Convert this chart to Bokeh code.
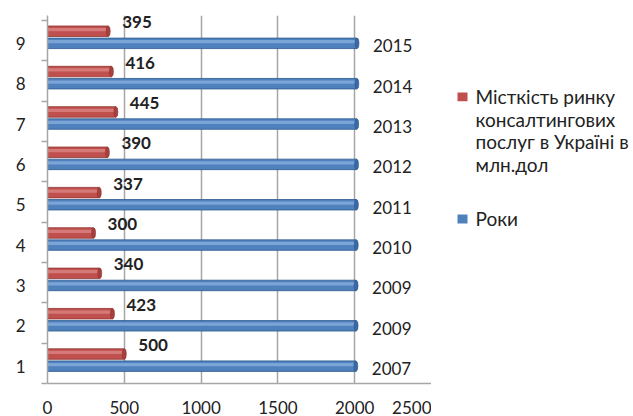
from bokeh.plotting import figure
from bokeh.models import Range1d, FixedTicker
from bokeh.layouts import row
from bokeh.core.properties import value
from bokeh.embed import file_html
from bokeh.resources import INLINE

# ---- data ----
categories = [1, 2, 3, 4, 5, 6, 7, 8, 9]
years = [2007, 2009, 2009, 2010, 2011, 2012, 2013, 2014, 2015]
market = [500, 423, 340, 300, 337, 390, 445, 416, 395]
year_labels = [str(v) for v in years]
market_labels = [str(v) for v in market]
x_ticks = [0, 500, 1000, 1500, 2000, 2500]
legend_market = ["Місткість ринку", "консалтингових", "послуг в Україні в", "млн.дол"]
legend_years = ["Роки"]

FONT = "Lato"
RED, RED_HI, RED_LO = "#C0504D", "#DE8C8A", "#8E3330"
BLUE, BLUE_HI, BLUE_LO = "#4F81BD", "#8EB4E3", "#2D5A8E"
GRID = "#A6A6A6"
TXT = "#222222"

p = figure(width=431, height=416, output_backend="svg", toolbar_location=None,
           x_range=Range1d(0, 2500), y_range=Range1d(0.57, 9.69),
           min_border_left=47, min_border_right=0, min_border_top=15, min_border_bottom=33)
p.outline_line_color = None

# axes
p.xaxis.ticker = FixedTicker(ticks=x_ticks)
p.xaxis.axis_line_color = GRID
p.xaxis.axis_line_width = 1.5
p.xaxis.major_tick_line_color = None
p.xaxis.minor_tick_line_color = None
p.xaxis.major_label_standoff = 11
p.xaxis.major_label_text_font = FONT
p.xaxis.major_label_text_font_size = "17px"
p.xaxis.major_label_text_color = TXT

p.yaxis.ticker = FixedTicker(ticks=categories, minor_ticks=[c + 0.57 for c in [0] + categories])
p.yaxis.axis_line_color = GRID
p.yaxis.axis_line_width = 1.5
p.yaxis.major_tick_line_color = None
p.yaxis.minor_tick_line_color = GRID
p.yaxis.minor_tick_line_width = 1.5
p.yaxis.minor_tick_out = 6
p.yaxis.minor_tick_in = 0
p.yaxis.major_label_standoff = 16
p.yaxis.major_label_text_font = FONT
p.yaxis.major_label_text_font_size = "17px"
p.yaxis.major_label_text_color = TXT

p.xgrid.ticker = FixedTicker(ticks=x_ticks[1:])
p.xgrid.grid_line_color = GRID
p.xgrid.grid_line_width = 1.5
p.ygrid.grid_line_color = None

H = 0.26
red_y = [c + 0.3 for c in categories]

# blue cylinders (years)
p.hbar(y=categories, left=0, right=years, height=H, fill_color=BLUE, line_color=BLUE_LO, line_width=0.8)
p.hbar(y=[c + 0.04 for c in categories], left=0, right=years, height=0.08, fill_color=BLUE_HI,
       line_color=None, fill_alpha=0.7)
p.ellipse(x=years, y=categories, width=4, height=H, width_units="screen",
          fill_color="#3A6AA5", line_color=BLUE_LO, line_width=0.6)

# red cylinders (market)
p.hbar(y=red_y, left=0, right=market, height=H, fill_color=RED, line_color=RED_LO, line_width=0.8)
p.hbar(y=[c + 0.34 for c in categories], left=0, right=market, height=0.08, fill_color=RED_HI,
       line_color=None, fill_alpha=0.7)
p.ellipse(x=market, y=red_y, width=4, height=H, width_units="screen",
          fill_color="#A8413E", line_color=RED_LO, line_width=0.6)

# data labels
p.text(x=years, y=[c - 0.06 for c in categories], text=year_labels, x_offset=16,
       text_baseline="middle", text_align="left", text_font=value(FONT),
       text_font_size="17px", text_color=TXT)
p.text(x=market, y=[c + 0.52 for c in categories], text=market_labels, x_offset=14,
       text_baseline="middle", text_align="left", text_font=value(FONT),
       text_font_size="17px", text_font_style="bold", text_color=TXT)

# legend panel (separate figure, pixel coordinates, top-down)
lg = figure(width=202, height=416, output_backend="svg", toolbar_location=None,
            x_range=Range1d(0, 202), y_range=Range1d(416, 0),
            min_border=0)
lg.axis.visible = False
lg.grid.visible = False
lg.outline_line_color = None

lg.rect(x=[31, 31], y=[92, 230], width=10, height=10, fill_color=[RED, BLUE], line_color=None)
lg.text(x=[44] * len(legend_market), y=[92 + 25.3 * i for i in range(len(legend_market))],
        text=legend_market, text_baseline="middle", text_align="left",
        text_font=value(FONT), text_font_size="19px", text_color=TXT)
lg.text(x=[44], y=[230], text=legend_years, text_baseline="middle", text_align="left",
        text_font=value(FONT), text_font_size="19px", text_color=TXT)

layout = row(p, lg)
open("out.html", "w").write(file_html(layout, INLINE))
